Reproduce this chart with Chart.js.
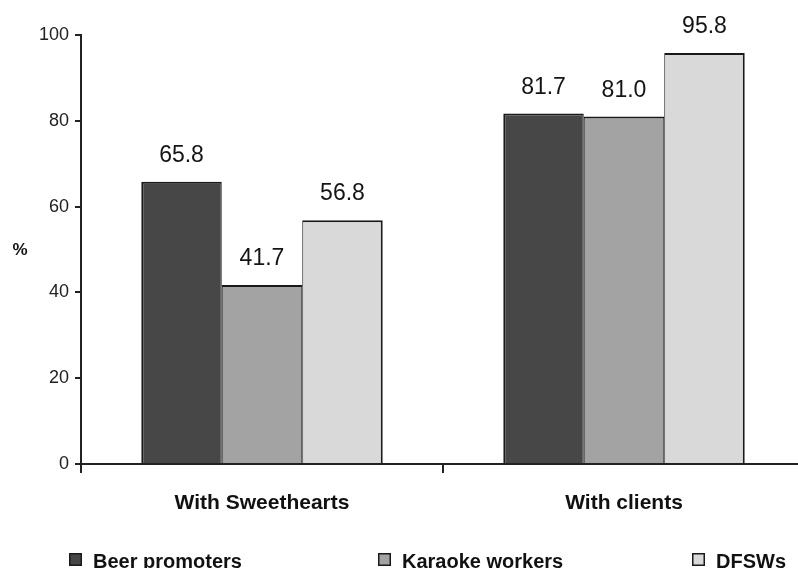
<!DOCTYPE html>
<html>
<head>
<meta charset="utf-8">
<script src="https://cdn.jsdelivr.net/npm/chart.js@4/dist/chart.umd.min.js"></script>
<style>
  html, body { margin: 0; padding: 0; background: #ffffff; overflow: hidden; width: 798px; height: 568px; }
  canvas { display: block; }
</style>
</head>
<body>
<canvas id="chart" width="806" height="568" style="width:806px;height:568px"></canvas>
<script>
// Share (%) of each group, by type of partner
const categories = ['With Sweethearts', 'With clients'];
const seriesNames = ['Beer promoters', 'Karaoke workers', 'DFSWs'];
const beerPromoters = [65.8, 81.7];
const karaokeWorkers = [41.7, 81.0];
const dfsws = [56.8, 95.8];
const yTickValues = [0, 20, 40, 60, 80, 100];
const yAxisLabel = '%';

const FONT = "Arial, 'Liberation Sans', Helvetica, sans-serif";
const fills = ['#474747', '#a3a3a3', '#d9d9d9'];
const edge = '#1a1a1a';
const borders = [
  { top: 2, left: 2, right: 1, bottom: 0 },
  { top: 2, left: 1, right: 1, bottom: 0 },
  { top: 2, left: 1, right: 2, bottom: 0 }
];

// Value written above every bar
const valueLabels = {
  id: 'valueLabels',
  afterDatasetsDraw(chart) {
    const ctx = chart.ctx;
    ctx.save();
    ctx.font = '23px ' + FONT;
    ctx.fillStyle = '#141414';
    ctx.textAlign = 'center';
    ctx.textBaseline = 'alphabetic';
    chart.data.datasets.forEach((ds, i) => {
      chart.getDatasetMeta(i).data.forEach((bar, j) => {
        ctx.fillText(ds.data[j].toFixed(1), bar.x, bar.y - 20);
      });
    });
    ctx.restore();
  }
};

// Unrotated "%" beside the value axis
const axisCaption = {
  id: 'axisCaption',
  afterDraw(chart) {
    const ctx = chart.ctx;
    const y = chart.scales.y;
    ctx.save();
    ctx.font = 'bold 17px ' + FONT;
    ctx.fillStyle = '#141414';
    ctx.textAlign = 'center';
    ctx.textBaseline = 'middle';
    ctx.fillText(yAxisLabel, 20, (y.top + y.bottom) / 2 + 1);
    ctx.restore();
  }
};

// Key along the bottom edge
const bottomKey = {
  id: 'bottomKey',
  afterDraw(chart) {
    const ctx = chart.ctx;
    const boxX = [69, 378, 692];
    const box = 13, top = 553;
    ctx.save();
    ctx.font = 'bold 20px ' + FONT;
    ctx.textAlign = 'left';
    ctx.textBaseline = 'alphabetic';
    seriesNames.forEach((name, i) => {
      ctx.fillStyle = fills[i];
      ctx.fillRect(boxX[i], top, box, box);
      ctx.strokeStyle = edge;
      ctx.lineWidth = 1.5;
      ctx.strokeRect(boxX[i] + 0.75, top + 0.75, box - 1.5, box - 1.5);
      ctx.fillStyle = '#111111';
      ctx.fillText(name, boxX[i] + box + 11, top + 15);
    });
    ctx.restore();
  }
};

const datasets = [beerPromoters, karaokeWorkers, dfsws].map((values, i) => ({
  label: seriesNames[i],
  data: values,
  backgroundColor: fills[i],
  borderColor: edge,
  borderWidth: borders[i],
  borderSkipped: false,
  categoryPercentage: 0.667,
  barPercentage: 1.0
}));

new Chart(document.getElementById('chart'), {
  type: 'bar',
  data: { labels: categories, datasets },
  options: {
    responsive: false,
    animation: false,
    devicePixelRatio: 1,
    layout: { padding: { top: 35, right: 1, bottom: 0, left: 0 } },
    plugins: {
      legend: { display: false },
      tooltip: { enabled: false }
    },
    scales: {
      x: {
        offset: true,
        grid: {
          offset: true,
          drawOnChartArea: false,
          drawTicks: true,
          tickLength: 9,
          color: '#222222',
          lineWidth: 2
        },
        border: { display: true, color: '#222222', width: 2 },
        ticks: {
          color: '#111111',
          font: { family: FONT, size: 21, weight: 'bold' },
          padding: 18
        },
        afterFit(scale) { scale.height = 104; }
      },
      y: {
        min: 0,
        max: 100,
        afterBuildTicks(scale) { scale.ticks = yTickValues.map(v => ({ value: v })); },
        grid: {
          drawOnChartArea: false,
          drawTicks: true,
          tickLength: 6,
          color: '#222222',
          lineWidth: 2
        },
        border: { display: true, color: '#222222', width: 2 },
        ticks: {
          color: '#222222',
          font: { family: FONT, size: 18 },
          padding: 6
        },
        afterFit(scale) { scale.width = 81; }
      }
    }
  },
  plugins: [valueLabels, axisCaption, bottomKey]
});
</script>
</body>
</html>
